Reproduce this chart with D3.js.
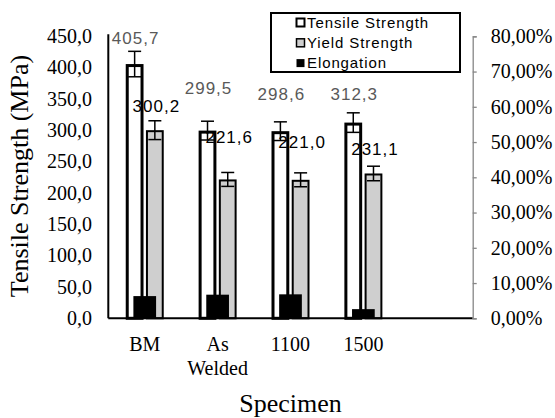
<!DOCTYPE html>
<html>
<head>
	<meta charset="UTF-8">
	<title>Tensile Strength</title>
	<script src="https://cdn.jsdelivr.net/npm/d3@7"></script>
	<style>
		body { margin: 0; background: #fff; }
		.serif { font-family: "Liberation Serif", "Times New Roman", serif; }
		.sans { font-family: "Liberation Sans", Arial, sans-serif; }
	</style>
</head>
<body>
<script type="text/javascript">
// data
var categories = ["BM", "As Welded", "1100", "1500", ""];
var tensile = [405.7, 299.5, 298.6, 312.3];
var tensileErr = [20.3, 15.0, 14.9, 15.6];
var yieldStr = [300.2, 221.6, 221.0, 231.1];
var yieldErr = [15.0, 11.1, 11.1, 11.6];
var elongation = [0.063, 0.067, 0.068, 0.026];
var leftTicks = [0, 50, 100, 150, 200, 250, 300, 350, 400, 450];
var rightTicks = [0, 0.1, 0.2, 0.3, 0.4, 0.5, 0.6, 0.7, 0.8];
var legendNames = ["Tensile Strength", "Yield Strength", "Elongation"];

// label nudges (the labels were moved by hand in the original)
var tensileLabelDy = [-20, -37, -31, -23];
var yieldLabelDy = [-18, -36, -32, -18];

var W = 555, H = 418;
var pLeft = 108.3, pRight = 472.7, pTop = 36.3, pBottom = 318.3;

var svg = d3.select("body").append("svg")
	.attr("width", W)
	.attr("height", H);

var x = d3.scaleBand().domain(categories).range([pLeft, pRight]).padding(0);
var y = d3.scaleLinear().domain([0, 450]).range([pBottom, pTop]);
var y2 = d3.scaleLinear().domain([0, 0.8]).range([pBottom, pTop]);
var sub = d3.scaleBand().domain(["t", "y"]).range([-19, 19]).paddingInner(0.12);

function cx(i) { return x(categories[i]) + x.bandwidth() / 2; }

// tensile bars (white, thick border)
svg.append("g").selectAll("rect").data(tensile).join("rect")
	.attr("x", function(d, i) { return cx(i) + sub("t") + 1.5; })
	.attr("y", function(d) { return y(d) + 1.5; })
	.attr("width", sub.bandwidth() - 3)
	.attr("height", function(d) { return pBottom - y(d) - 1.5; })
	.attr("fill", "#fff")
	.attr("stroke", "#000")
	.attr("stroke-width", 3);

// yield bars (grey)
svg.append("g").selectAll("rect").data(yieldStr).join("rect")
	.attr("x", function(d, i) { return cx(i) + sub("y") + 1; })
	.attr("y", function(d) { return y(d) + 1; })
	.attr("width", sub.bandwidth() - 2)
	.attr("height", function(d) { return pBottom - y(d) - 1; })
	.attr("fill", "#cfcfcf")
	.attr("stroke", "#000")
	.attr("stroke-width", 2);

// error bars
function errBars(vals, errs, key) {
	var g = svg.append("g").attr("stroke", "#000").attr("stroke-width", 1.5);
	vals.forEach(function(v, i) {
		var bx = cx(i) + sub(key) + sub.bandwidth() / 2;
		var y1 = y(v + errs[i]), y0 = y(v - errs[i]);
		g.append("line").attr("x1", bx).attr("x2", bx).attr("y1", y1).attr("y2", y0);
		g.append("line").attr("x1", bx - 6.5).attr("x2", bx + 6.5).attr("y1", y1).attr("y2", y1);
		g.append("line").attr("x1", bx - 6.5).attr("x2", bx + 6.5).attr("y1", y0).attr("y2", y0);
	});
}
errBars(tensile, tensileErr, "t");
errBars(yieldStr, yieldErr, "y");

// elongation bars on secondary axis
var ew = 22.7;
svg.append("g").selectAll("rect").data(elongation).join("rect")
	.attr("x", function(d, i) { return cx(i) - ew / 2; })
	.attr("y", function(d) { return y2(d); })
	.attr("width", ew)
	.attr("height", function(d) { return pBottom - y2(d); })
	.attr("fill", "#000");

// axes lines
svg.append("line").attr("x1", pLeft).attr("x2", pLeft).attr("y1", pTop - 2).attr("y2", pBottom)
	.attr("stroke", "#000").attr("stroke-width", 2);
svg.append("line").attr("x1", pLeft).attr("x2", pRight).attr("y1", pBottom).attr("y2", pBottom)
	.attr("stroke", "#000").attr("stroke-width", 2);

// left tick labels
var fmt1 = function(v) { return d3.format(".1f")(v).replace(".", ","); };
svg.append("g").selectAll("text").data(leftTicks).join("text")
	.attr("class", "serif")
	.attr("x", 92)
	.attr("y", function(d) { return y(d); })
	.attr("dy", "0.33em")
	.attr("text-anchor", "end")
	.attr("font-size", "20px")
	.attr("fill", "#000")
	.text(fmt1);

// right axis
var ra = svg.append("g").attr("transform", "translate(" + pRight + ",0)")
	.call(d3.axisRight(y2).tickValues(rightTicks).tickSize(4)
		.tickFormat(function(d) { return d3.format(".2f")(d * 100).replace(".", ",") + "%"; }));
ra.attr("font-family", null).attr("font-size", null);
ra.select(".domain").attr("stroke", "#868686").attr("stroke-width", 1.3);
ra.selectAll(".tick line").attr("stroke", "#868686").attr("stroke-width", 1.3);
ra.selectAll(".tick text")
	.attr("class", "serif")
	.attr("x", 18)
	.attr("font-size", "20px")
	.attr("fill", "#000");

// category labels
var cl = svg.append("g");
categories.forEach(function(c, i) {
	var words = c.split(" ");
	words.forEach(function(w, j) {
		cl.append("text")
			.attr("class", "serif")
			.attr("x", cx(i))
			.attr("y", 350.5 + j * 24)
			.attr("text-anchor", "middle")
			.attr("font-size", "20px")
			.text(w);
	});
});

// data labels
svg.append("g").selectAll("text").data(tensile).join("text")
	.attr("class", "sans")
	.attr("x", function(d, i) { return cx(i) + sub("t") + sub.bandwidth() / 2 + 1; })
	.attr("y", function(d, i) { return y(d) + tensileLabelDy[i]; })
	.attr("text-anchor", "middle")
	.attr("font-size", "17px")
	.attr("letter-spacing", "1px")
	.attr("fill", "#595959")
	.text(fmt1);
svg.append("g").selectAll("text").data(yieldStr).join("text")
	.attr("class", "sans")
	.attr("x", function(d, i) { return cx(i) + sub("y") + sub.bandwidth() / 2 + 1.5; })
	.attr("y", function(d, i) { return y(d) + yieldLabelDy[i]; })
	.attr("text-anchor", "middle")
	.attr("font-size", "17px")
	.attr("letter-spacing", "1px")
	.attr("fill", "#000")
	.text(fmt1);

// axis titles
svg.append("text")
	.attr("class", "serif")
	.attr("transform", "translate(28,176) rotate(-90)")
	.attr("text-anchor", "middle")
	.attr("font-size", "26px")
	.text("Tensile Strength (MPa)");
svg.append("text")
	.attr("class", "serif")
	.attr("x", (pLeft + pRight) / 2)
	.attr("y", 412)
	.attr("text-anchor", "middle")
	.attr("font-size", "26px")
	.text("Specimen");

// legend
var lg = svg.append("g");
lg.append("rect").attr("x", 271).attr("y", 13).attr("width", 189).attr("height", 59)
	.attr("fill", "#fff").attr("stroke", "#000").attr("stroke-width", 2);
var sw = [["#fff", 2], ["#cfcfcf", 1.5], ["#000", 0]];
legendNames.forEach(function(n, i) {
	var cy = 22.5 + i * 20.3;
	lg.append("rect").attr("x", 296.5).attr("y", cy - 4).attr("width", 8).attr("height", 8)
		.attr("fill", sw[i][0]).attr("stroke", "#000").attr("stroke-width", sw[i][1]);
	lg.append("text")
		.attr("class", "sans")
		.attr("x", 307)
		.attr("y", cy + 5.3)
		.attr("font-size", "15px")
		.attr("letter-spacing", "0.9px")
		.text(n);
});
</script>
</body>
</html>
